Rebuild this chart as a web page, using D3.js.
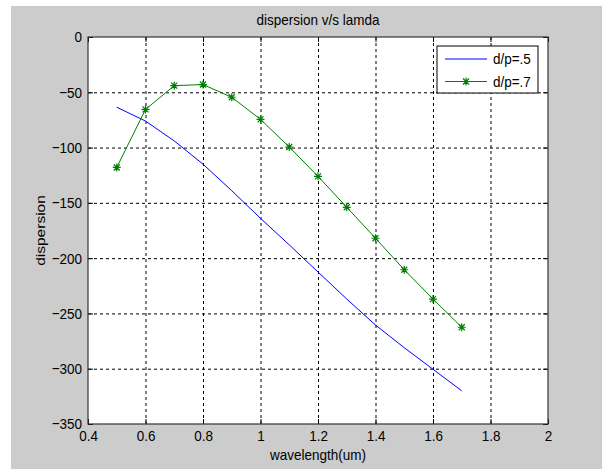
<!DOCTYPE html>
<html>
<head>
<meta charset="utf-8">
<script src="https://cdn.jsdelivr.net/npm/d3@7"></script>
<style>
  body { margin: 0; background: #fff; }
  svg { display: block; font-family: "Liberation Sans", Arial, sans-serif; }
</style>
</head>
<body>
<script>
// values
const wavelength = [0.5, 0.6, 0.7, 0.8, 0.9, 1.0, 1.1, 1.2, 1.3, 1.4, 1.5, 1.6, 1.7];
const dp5 = [-63.5, -76, -94, -115, -139, -164, -188, -212.5, -237, -260.5, -281, -300.5, -320];
const dp7 = [-118, -65.5, -44, -43, -54.5, -74.5, -99.5, -126, -154, -182, -210.5, -237, -262.5];
const seriesNames = ['d/p=.5', 'd/p=.7'];
const xTicks = [0.4, 0.6, 0.8, 1, 1.2, 1.4, 1.6, 1.8, 2];
const yTicks = [0, -50, -100, -150, -200, -250, -300, -350];

const W = 602, H = 469;
const margin = { top: 37, right: 54, bottom: 45, left: 88 };
const width = W - margin.left - margin.right;
const height = H - margin.top - margin.bottom;
const fs = '13.5px';
const sy = 1.15; // the picture's text is a bit tall

const svg = d3.select('body').append('svg')
  .attr('width', W)
  .attr('height', H);

// figure background
svg.append('rect')
  .attr('x', 11).attr('y', 6)
  .attr('width', W - 11).attr('height', H - 6)
  .attr('fill', '#cccccc');

const g = svg.append('g')
  .attr('transform', `translate(${margin.left},${margin.top})`);

g.append('rect')
  .attr('width', width)
  .attr('height', height)
  .attr('fill', '#fff');

const x = d3.scaleLinear().domain([0.4, 2]).range([0, width]);
const y = d3.scaleLinear().domain([-350, 0]).range([height, 0]);

// dashed grid
g.append('g')
  .attr('transform', `translate(0,${height})`)
  .call(d3.axisBottom(x).tickValues(xTicks.slice(1, -1)).tickSize(-height).tickFormat(''))
  .call(s => s.select('.domain').remove())
  .selectAll('line')
  .attr('stroke', '#000')
  .attr('stroke-dasharray', '3,3');

g.append('g')
  .call(d3.axisLeft(y).tickValues(yTicks.slice(1, -1)).tickSize(-width).tickFormat(''))
  .call(s => s.select('.domain').remove())
  .selectAll('line')
  .attr('stroke', '#000')
  .attr('stroke-dasharray', '3,3');

// data
const line = d3.line()
  .x((d, i) => x(wavelength[i]))
  .y(d => y(d));

g.append('path')
  .datum(dp5)
  .attr('fill', 'none')
  .attr('stroke', '#0000ff')
  .attr('stroke-width', 1)
  .attr('d', line);

g.append('path')
  .datum(dp7)
  .attr('fill', 'none')
  .attr('stroke', '#008000')
  .attr('stroke-width', 1)
  .attr('d', line);

// matlab style '*' marker
const star = {
  draw(ctx, size) {
    const r = Math.sqrt(size) / 2;
    const q = r * 0.75;
    ctx.moveTo(-r, 0); ctx.lineTo(r, 0);
    ctx.moveTo(0, -r); ctx.lineTo(0, r);
    ctx.moveTo(-q, -q); ctx.lineTo(q, q);
    ctx.moveTo(-q, q); ctx.lineTo(q, -q);
  }
};
const marker = d3.symbol(star, 64);

g.selectAll('.mk')
  .data(dp7)
  .enter()
  .append('path')
  .attr('class', 'mk')
  .attr('transform', (d, i) => `translate(${x(wavelength[i])},${y(d)})`)
  .attr('d', marker)
  .attr('fill', 'none')
  .attr('stroke', '#008000')
  .attr('stroke-width', 1.2);

// axes, ticks inside on all sides
const styleAxis = s => {
  s.select('.domain').remove();
  s.selectAll('line').attr('stroke', '#000');
  s.selectAll('text').attr('fill', '#000').style('font-size', fs);
};

g.append('g')
  .attr('transform', `translate(0,${height})`)
  .call(d3.axisBottom(x).tickValues(xTicks).tickSizeInner(-5).tickSizeOuter(0).tickPadding(5)
    .tickFormat(d3.format('')))
  .call(styleAxis)
  .call(s => s.selectAll('text').attr('transform', `scale(1,${sy})`));

g.append('g')
  .call(d3.axisTop(x).tickValues(xTicks).tickSizeInner(-5).tickSizeOuter(0).tickFormat(''))
  .call(styleAxis);

g.append('g')
  .call(d3.axisLeft(y).tickValues(yTicks).tickSizeInner(-5).tickSizeOuter(0).tickPadding(6))
  .call(styleAxis)
  .call(s => s.selectAll('text').attr('transform', `scale(1,${sy})`));

g.append('g')
  .attr('transform', `translate(${width},0)`)
  .call(d3.axisRight(y).tickValues(yTicks).tickSizeInner(-5).tickSizeOuter(0).tickFormat(''))
  .call(styleAxis);

g.append('rect')
  .attr('width', width)
  .attr('height', height)
  .attr('fill', 'none')
  .attr('stroke', '#333')
  .attr('stroke-width', 1.2);

// titles
svg.append('text')
  .attr('transform', `translate(${margin.left + width / 2},25) scale(1,${sy})`)
  .attr('text-anchor', 'middle')
  .style('font-size', fs)
  .text('dispersion v/s lamda');

svg.append('text')
  .attr('transform', `translate(${margin.left + width / 2},460) scale(1,${sy})`)
  .attr('text-anchor', 'middle')
  .style('font-size', fs)
  .text('wavelength(um)');

svg.append('text')
  .attr('transform', `translate(45,${margin.top + height / 2}) rotate(-90) scale(${sy},1)`)
  .attr('text-anchor', 'middle')
  .style('font-size', fs)
  .text('dispersion');

// legend
const legend = svg.append('g')
  .attr('transform', 'translate(437,46)');

legend.append('rect')
  .attr('width', 101)
  .attr('height', 47)
  .attr('fill', '#fff')
  .attr('stroke', '#000');

const colors = ['#0000ff', '#008000'];
seriesNames.forEach((name, i) => {
  const ly = 13 + i * 22.5;
  legend.append('line')
    .attr('x1', 8).attr('x2', 50)
    .attr('y1', ly).attr('y2', ly)
    .attr('stroke', colors[i]);
  if (i === 1) {
    legend.append('path')
      .attr('transform', `translate(29,${ly})`)
      .attr('d', marker)
      .attr('fill', 'none')
      .attr('stroke', colors[i])
      .attr('stroke-width', 1.2);
  }
  legend.append('text')
    .attr('transform', `translate(56,${ly + 5}) scale(1,${sy})`)
    .style('font-size', fs)
    .text(name);
});
</script>
</body>
</html>
